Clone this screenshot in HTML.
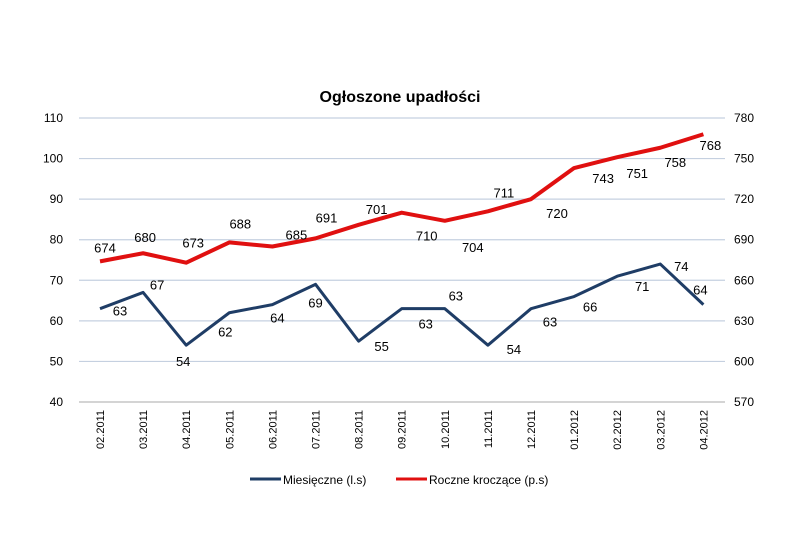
<!DOCTYPE html>
<html><head><meta charset="utf-8"><style>
body{margin:0;background:#fff;font-family:"Liberation Sans",sans-serif}
svg text{font-family:"Liberation Sans",sans-serif}
</style></head><body>
<svg id="c" width="805" height="547" xmlns="http://www.w3.org/2000/svg">
<text x="400" y="102" text-anchor="middle" font-size="16" font-weight="bold" fill="#000">Ogłoszone upadłości</text>
<g id="grid"></g><g id="ax"></g><g id="series"></g><g id="labels"></g>
<g>
<line x1="250" y1="479" x2="281" y2="479" stroke="#1f3d66" stroke-width="3"/>
<text x="283" y="484" font-size="12" fill="#000">Miesięczne (l.s)</text>
<line x1="396" y1="479" x2="427" y2="479" stroke="#e01010" stroke-width="3"/>
<text x="429" y="484" font-size="12" fill="#000">Roczne kroczące (p.s)</text>
</g>
</svg>
<script>
const categories=["02.2011","03.2011","04.2011","05.2011","06.2011","07.2011","08.2011","09.2011","10.2011","11.2011","12.2011","01.2012","02.2012","03.2012","04.2012"];
const monthly=[63,67,54,62,64,69,55,63,63,54,63,66,71,74,64];
const annual=[674,680,673,688,685,691,701,710,704,711,720,743,751,758,768];
const leftTicks=[40,50,60,70,80,90,100,110];
const rightTicks=[570,600,630,660,690,720,750,780];
const monthlyOff=[[20,2],[14,-8],[-3,16],[-4,19],[5,13],[0,18],[23,5],[24,15],[11,-13],[26,4],[19,13],[16,10],[25,10],[21,2],[-3,-15]];
const annualOff=[[5,-14],[2,-16],[7,-20],[11,-19],[24,-12],[11,-21],[18,-16],[25,23],[28,26],[16,-19],[26,14],[29,10],[20,16],[15,14],[7,11]];
const NS="http://www.w3.org/2000/svg";
const yL=v=>402-(v-40)*(284/70), yR=v=>402-(v-570)*(284/210), xC=i=>100+i*43.1;
function mk(p,t,a){const e=document.createElementNS(NS,t);for(const k in a)e.setAttribute(k,a[k]);document.getElementById(p).appendChild(e);return e;}
leftTicks.forEach((t,i)=>{
 const l=mk('grid','line',{x1:79,x2:725,y1:yL(t),y2:yL(t),stroke:i==0?'#bbb':'#c5d0e0','stroke-width':1.2});
 
 
 const tx=mk('ax','text',{x:63,y:yL(t)+4,'text-anchor':'end','font-size':12});tx.textContent=t;
 
 
});
rightTicks.forEach(t=>{
 const tx=mk('ax','text',{x:734,y:yR(t)+4,'font-size':12});tx.textContent=t;
 
 
});
categories.forEach((c,i)=>{
 const x=xC(i)+4;
 const tx=mk('ax','text',{x:x,y:410,'text-anchor':'end','font-size':11,transform:`rotate(-90 ${x} 410)`});tx.textContent=c;
 
 
});
const pm=mk('series','polyline',{points:monthly.map((v,i)=>xC(i)+','+yL(v)).join(' '),fill:'none',stroke:'#1f3d66','stroke-width':3,'stroke-linejoin':'round'});


const pa=mk('series','polyline',{points:annual.map((v,i)=>xC(i)+','+yR(v)).join(' '),fill:'none',stroke:'#e01010','stroke-width':4,'stroke-linejoin':'round'});


monthly.forEach((v,i)=>{
 const t=mk('labels','text',{x:xC(i)+monthlyOff[i][0],y:yL(v)+monthlyOff[i][1]+5,'text-anchor':'middle','font-size':13});t.textContent=v;
 
 
});
annual.forEach((v,i)=>{
 const t=mk('labels','text',{x:xC(i)+annualOff[i][0],y:yR(v)+annualOff[i][1]+5,'text-anchor':'middle','font-size':13});t.textContent=v;
 
 
});
</script>
</body></html>
